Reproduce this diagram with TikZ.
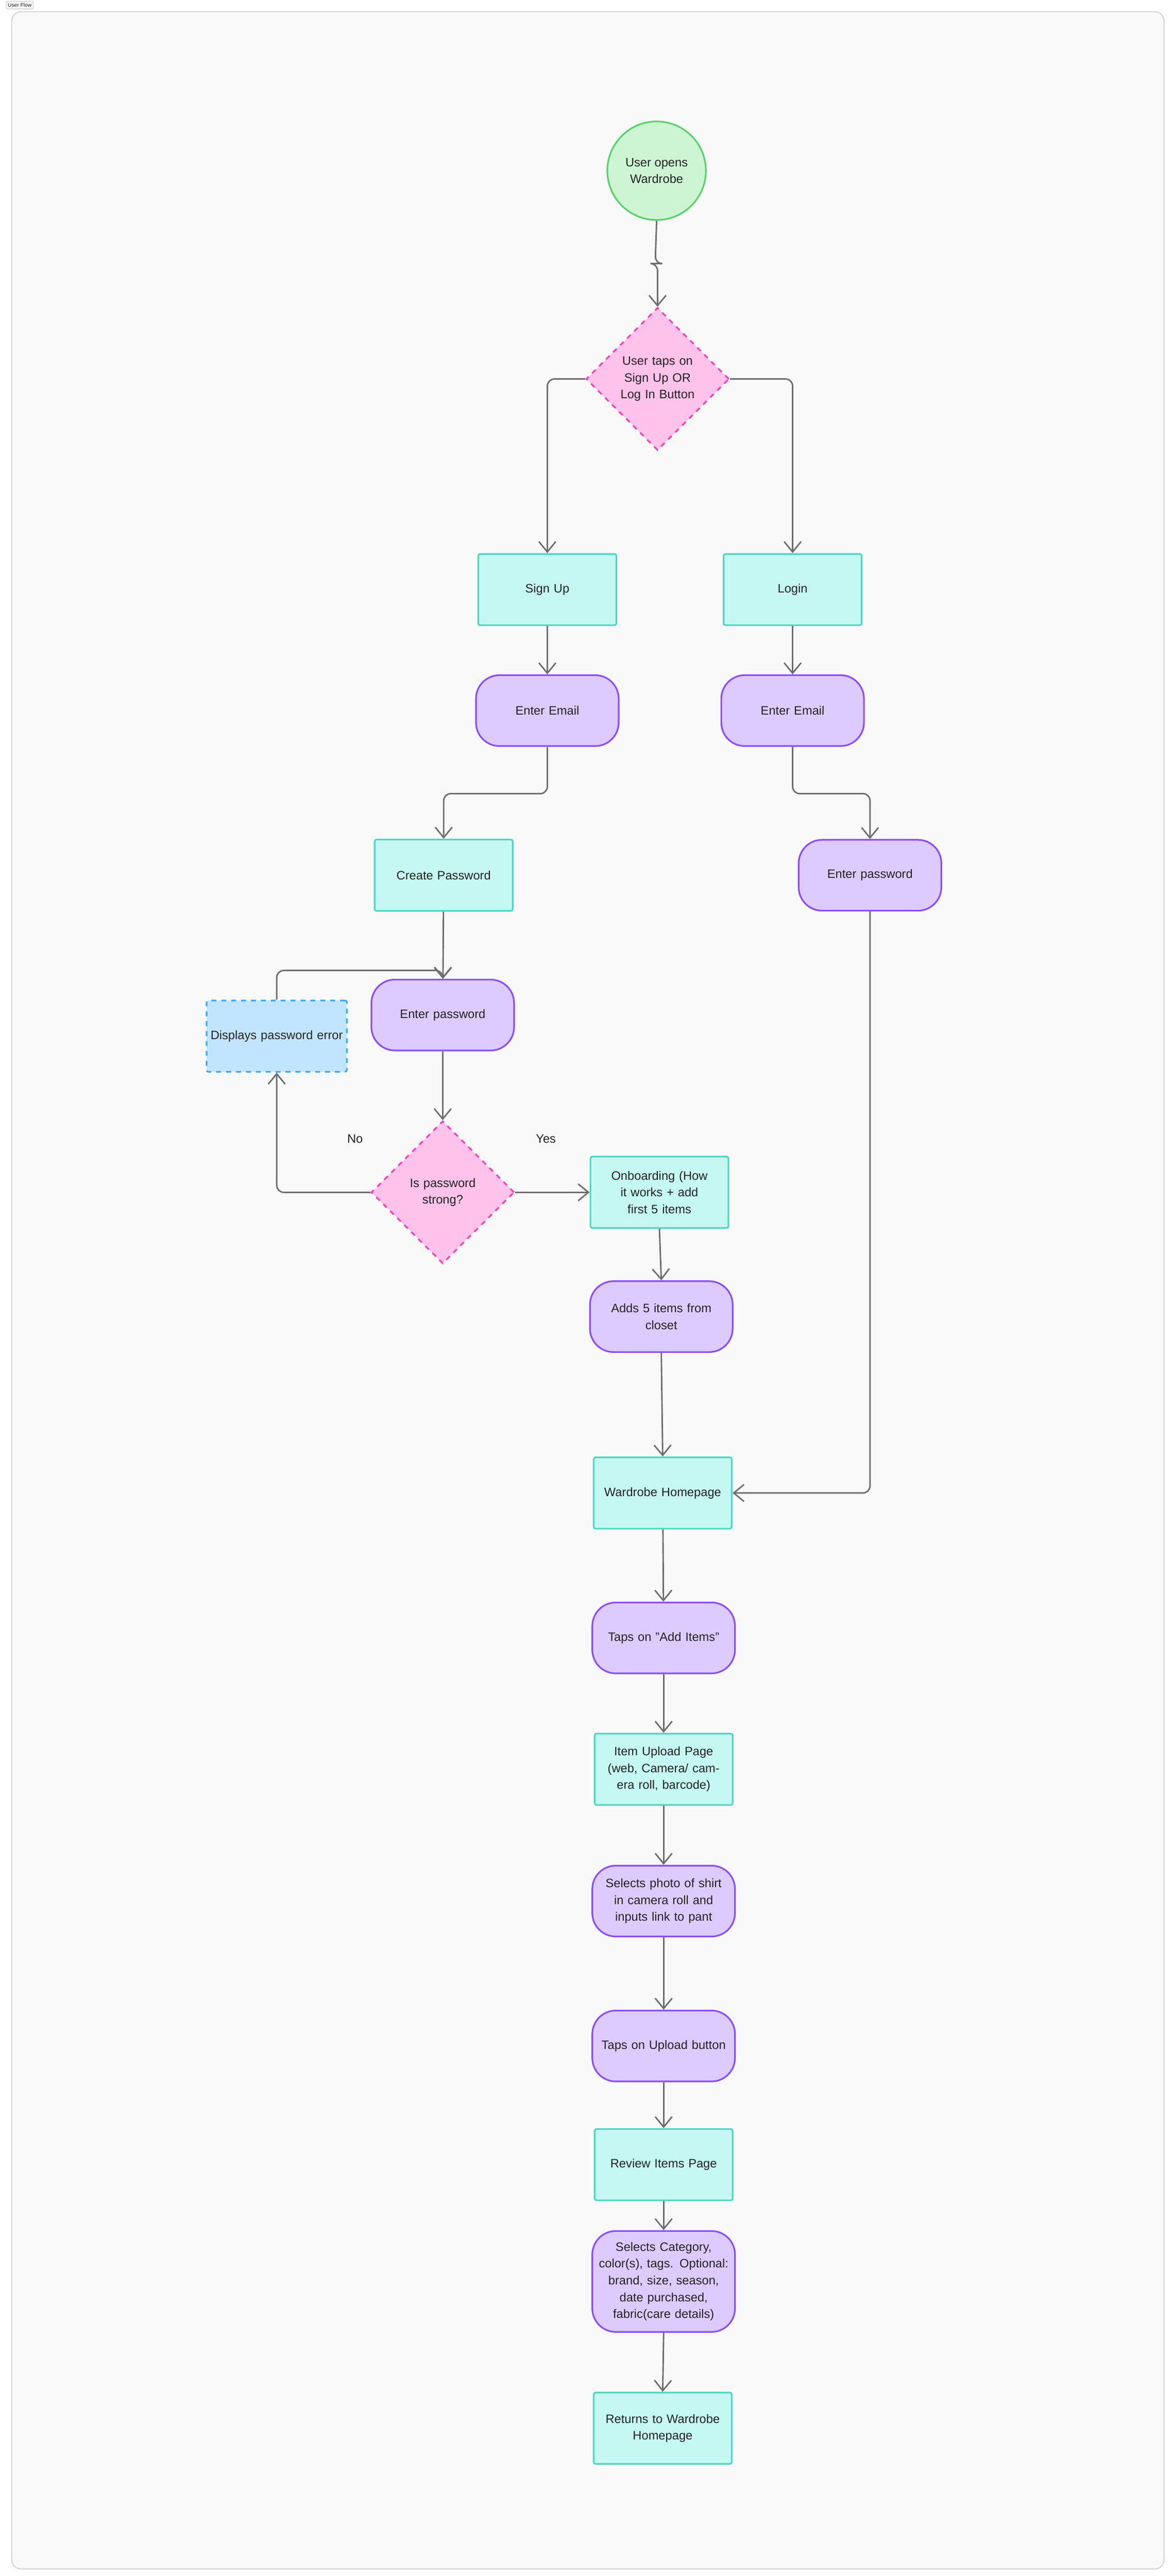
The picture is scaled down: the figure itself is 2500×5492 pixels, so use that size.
\documentclass[tikz,border=0pt]{standalone}
\usepackage{fontspec}
\setmainfont{Liberation Sans}
\usetikzlibrary{shapes.geometric,arrows.meta}
\definecolor{bgc}{HTML}{F9F9F9}
\definecolor{frm}{HTML}{D0D0D0}
\definecolor{gfill}{HTML}{CDF5D4}\definecolor{gdraw}{HTML}{5AD16A}
\definecolor{pfill}{HTML}{FFC2EA}\definecolor{pdraw}{HTML}{F540B8}
\definecolor{cfill}{HTML}{C5F8F2}\definecolor{cdraw}{HTML}{4FD6C2}
\definecolor{vfill}{HTML}{DDCBFF}\definecolor{vdraw}{HTML}{8A4DFF}
\definecolor{bfill}{HTML}{C2E5FF}\definecolor{bdraw}{HTML}{3BA9F5}
\definecolor{arr}{HTML}{6E6E6E}
\definecolor{txt}{HTML}{222222}
\tikzset{
  base/.style={font=\fontsize{7.4}{10.2}\selectfont, text=txt, align=center, line width=1pt, inner sep=2pt},
  startc/.style={base, circle, fill=gfill, draw=gdraw, minimum size=2.1cm},
  decide/.style={base, diamond, fill=pfill, draw=pdraw, dashed, minimum width=3.05cm, minimum height=3.04cm, inner sep=0pt, text width=1.6cm},
  screen/.style={base, rectangle, rounded corners=0.4mm, fill=cfill, draw=cdraw, minimum width=2.9cm, minimum height=1.52cm, text width=2.8cm},
  action/.style={base, rectangle, rounded corners=5mm, fill=vfill, draw=vdraw, minimum width=3.04cm, minimum height=1.51cm, text width=2.9cm},
  errbox/.style={base, rectangle, rounded corners=0.4mm, fill=bfill, draw=bdraw, dashed, minimum width=2.89cm, minimum height=1.52cm, text width=2.85cm},
  conn/.style={draw=arr, line width=0.9pt, -{Straight Barb[length=2.2mm,width=3.6mm]}, rounded corners=1.5mm},
  lbl/.style={font=\fontsize{7.4}{10.2}\selectfont, text=txt}
}
\begin{document}
\begin{tikzpicture}[x=0.01cm,y=-0.01cm]
\useasboundingbox (0,0) rectangle (2500,5492);
\fill[white] (0,0) rectangle (2500,5492);
\fill[bgc,draw=frm,line width=0.6pt,rounded corners=2mm] (25,25) rectangle (2482,5477);
\node[draw=frm,fill=bgc,rounded corners=0.3mm,line width=0.4pt,font=\fontsize{3.2}{4}\selectfont,text=txt,inner sep=1pt,minimum width=0.39cm,minimum height=0.16cm] (tag) at (42,11) {User Flow};

\node[startc] (start) at (1400,364) {User opens\\Wardrobe};
\node[decide] (d1) at (1402,808) {User taps on\\Sign Up OR\\Log In Button};
\node[screen] (signup) at (1167,1257) {Sign Up};
\node[screen] (login) at (1690,1257) {Login};
\node[action] (emailL) at (1167,1515) {Enter Email};
\node[action] (emailR) at (1690,1515) {Enter Email};
\node[screen] (createpw) at (946,1866) {Create Password};
\node[action] (pwR) at (1855,1866) {Enter password};
\node[action] (pwL) at (944,2164) {Enter password};
\node[errbox] (err) at (590,2209) {Displays password error};
\node[decide] (d2) at (944,2542) {Is password\\strong?};
\node[lbl] (no) at (757,2428) {No};
\node[lbl] (yes) at (1164,2428) {Yes};
\node[screen] (onb) at (1406,2542) {Onboarding (How it works + add first 5 items};
\node[action] (adds) at (1410,2807) {Adds 5 items from\\closet};
\node[screen] (home) at (1413,3183) {Wardrobe Homepage};
\node[action] (tapadd) at (1415,3492) {Taps on "Add Items"};
\node[screen] (upload) at (1415,3772) {Item Upload Page (web, Camera/ camera roll, barcode)};
\node[action] (selphoto) at (1415,4053) {Selects photo of shirt in camera roll and inputs link to pant};
\node[action] (tapup) at (1415,4362) {Taps on Upload button};
\node[screen] (review) at (1415,4615) {Review Items Page};
\node[action, minimum height=2.15cm] (selcat) at (1415,4864) {Selects Category, color(s), tags. Optional: brand, size, season, date purchased, fabric(care details)};
\node[screen] (ret) at (1413,5177) {Returns to Wardrobe Homepage};

\draw[conn] (start.south) -- (1397,562) -- (1402,562) -- (d1.north);
\draw[conn] (d1.west) -| (signup.north);
\draw[conn] (d1.east) -| (login.north);
\draw[conn] (signup) -- (emailL);
\draw[conn] (login) -- (emailR);
\draw[conn] (emailL.south) |- (946,1692) -- (createpw.north);
\draw[conn] (emailR.south) |- (1855,1692) -- (pwR.north);
\draw[conn] (createpw) -- (pwL);
\draw[conn] (err.north) |- (944,2069) -- (pwL.north);
\draw[conn] (pwL) -- (d2);
\draw[conn] (d2.west) -| (err.south);
\draw[conn] (d2.east) -- (onb.west);
\draw[conn] (onb.south) -- (adds.north);
\draw[conn] (adds.south) -- (home.north);
\draw[conn] (pwR.south) |- (home.east);
\draw[conn] (home) -- (tapadd);
\draw[conn] (tapadd) -- (upload);
\draw[conn] (upload) -- (selphoto);
\draw[conn] (selphoto) -- (tapup);
\draw[conn] (tapup) -- (review);
\draw[conn] (review) -- (selcat);
\draw[conn] (selcat.south) -- (ret.north);
\end{tikzpicture}
\end{document}
